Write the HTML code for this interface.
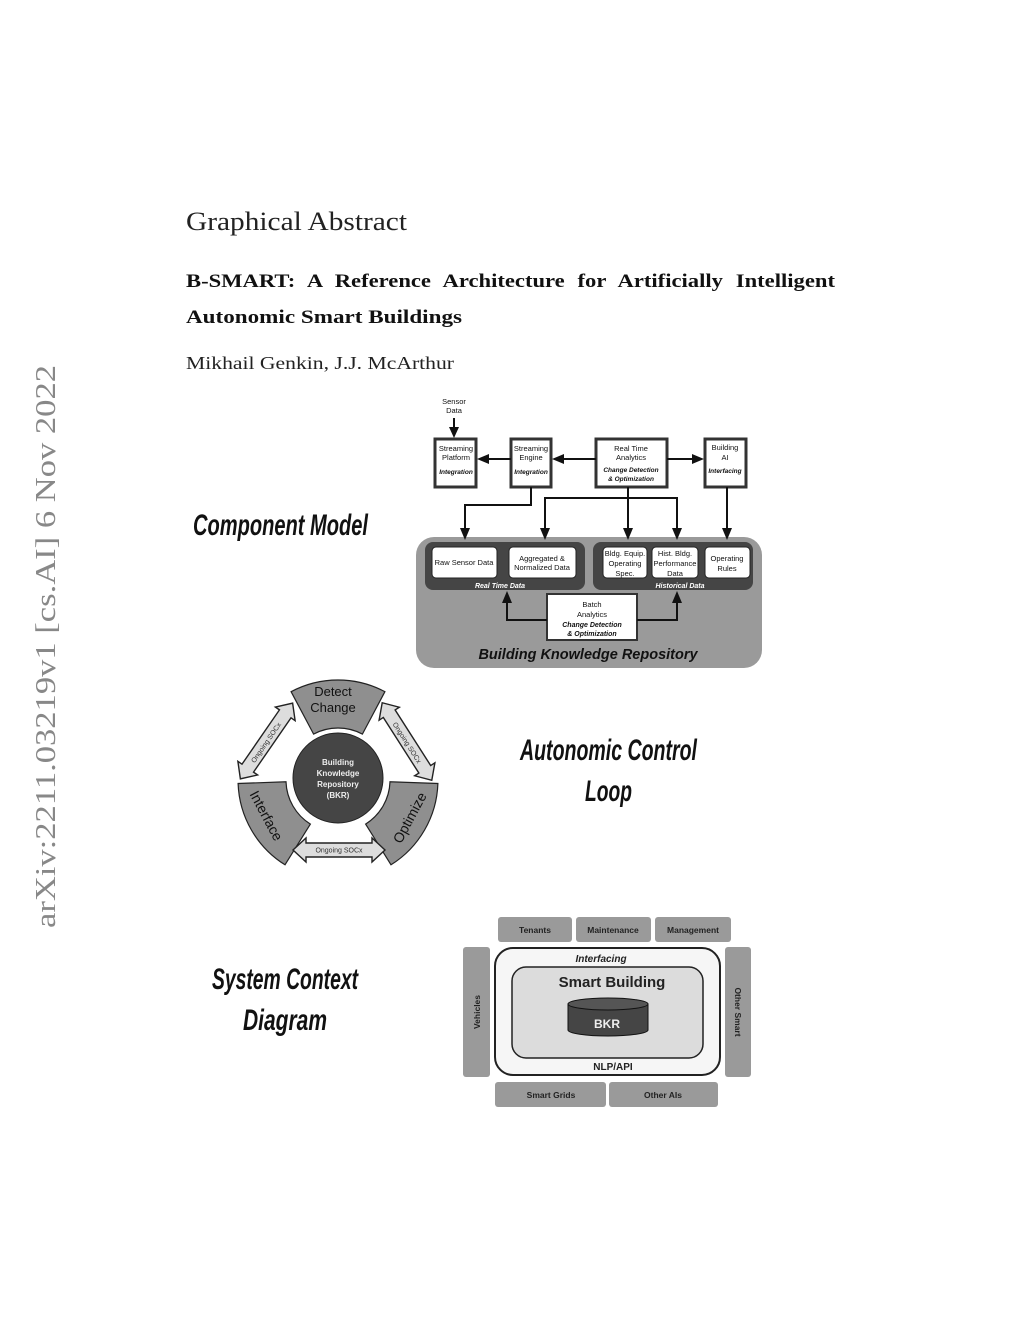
<!DOCTYPE html>
<html><head><meta charset="utf-8"><style>
html,body{margin:0;padding:0;background:#fff;}
svg{display:block;}
text{font-family:"Liberation Sans",sans-serif;}
.serif{font-family:"Liberation Serif",serif;}
</style></head><body>
<svg width="1024" height="1325" viewBox="0 0 1024 1325" xmlns="http://www.w3.org/2000/svg">
<!-- header -->
<text class="serif" x="186" y="230" font-size="26" textLength="221" lengthAdjust="spacingAndGlyphs" fill="#222">Graphical Abstract</text>
<text class="serif" x="186" y="287" font-size="19" font-weight="bold" textLength="649" lengthAdjust="spacingAndGlyphs" fill="#111" word-spacing="6">B-SMART: A Reference Architecture for Artificially Intelligent</text>
<text class="serif" x="186" y="323" font-size="19" font-weight="bold" textLength="276" lengthAdjust="spacingAndGlyphs" fill="#111">Autonomic Smart Buildings</text>
<text class="serif" x="186" y="369" font-size="18" textLength="268" lengthAdjust="spacingAndGlyphs" fill="#222">Mikhail Genkin, J.J. McArthur</text>
<text class="serif" transform="translate(55,928) rotate(-90)" font-size="29" textLength="563" lengthAdjust="spacingAndGlyphs" fill="#888">arXiv:2211.03219v1  [cs.AI]  6 Nov 2022</text>

<!-- headings -->
<g font-weight="bold" font-style="italic" fill="#111">
<text x="193" y="535" font-size="30" textLength="175" lengthAdjust="spacingAndGlyphs">Component Model</text>
<text x="520" y="760" font-size="30" textLength="177" lengthAdjust="spacingAndGlyphs">Autonomic Control</text>
<text x="585" y="801" font-size="30" textLength="47" lengthAdjust="spacingAndGlyphs">Loop</text>
<text x="212" y="989" font-size="30" textLength="146" lengthAdjust="spacingAndGlyphs">System Context</text>
<text x="243" y="1030" font-size="30" textLength="84" lengthAdjust="spacingAndGlyphs">Diagram</text>
</g>

<!-- Component model -->
<g font-size="7.5" fill="#111" text-anchor="middle">
<text x="454" y="404">Sensor</text><text x="454" y="413">Data</text>
</g>
<rect x="416" y="537" width="346" height="131" rx="18" fill="#9a9a9a"/>
<rect x="425" y="542" width="160" height="48" rx="8" fill="#454545"/>
<rect x="593" y="542" width="160" height="48" rx="8" fill="#454545"/>
<g fill="#fff" stroke="#222" stroke-width="1">
<rect x="432" y="547" width="65" height="31" rx="4"/>
<rect x="509" y="547" width="67" height="31" rx="4"/>
<rect x="603" y="547" width="44" height="31" rx="4"/>
<rect x="652" y="547" width="46" height="31" rx="4"/>
<rect x="705" y="547" width="45" height="31" rx="4"/>
</g>
<g font-size="7.5" fill="#111" text-anchor="middle">
<text x="464" y="565">Raw Sensor Data</text>
<text x="542" y="561">Aggregated &amp;</text><text x="542" y="570">Normalized Data</text>
<text x="625" y="556">Bldg. Equip.</text><text x="625" y="566">Operating</text><text x="625" y="576">Spec.</text>
<text x="675" y="556">Hist. Bldg.</text><text x="675" y="566">Performance</text><text x="675" y="576">Data</text>
<text x="727" y="561">Operating</text><text x="727" y="571">Rules</text>
</g>
<g font-size="7" font-style="italic" font-weight="bold" fill="#fff" text-anchor="middle">
<text x="500" y="588">Real Time Data</text>
<text x="680" y="588">Historical Data</text>
</g>
<rect x="547" y="594" width="90" height="46" fill="#fff" stroke="#333" stroke-width="2"/>
<g font-size="7.5" fill="#111" text-anchor="middle">
<text x="592" y="607">Batch</text><text x="592" y="617">Analytics</text>
<text x="592" y="627" font-style="italic" font-weight="bold" font-size="7">Change Detection</text>
<text x="592" y="636" font-style="italic" font-weight="bold" font-size="7">&amp; Optimization</text>
</g>
<text x="588" y="659" font-size="14.5" font-weight="bold" font-style="italic" fill="#111" text-anchor="middle">Building Knowledge Repository</text>

<g fill="#fff" stroke="#333" stroke-width="3">
<rect x="435" y="439" width="41" height="48"/>
<rect x="511" y="439" width="40" height="48"/>
<rect x="596" y="439" width="71" height="48"/>
<rect x="705" y="439" width="41" height="48"/>
</g>
<g font-size="7.5" fill="#111" text-anchor="middle">
<text x="456" y="451">Streaming</text><text x="456" y="460">Platform</text>
<text x="456" y="474" font-style="italic" font-weight="bold" font-size="6.5">Integration</text>
<text x="531" y="451">Streaming</text><text x="531" y="460">Engine</text>
<text x="531" y="474" font-style="italic" font-weight="bold" font-size="6.5">Integration</text>
<text x="631" y="451">Real Time</text><text x="631" y="460">Analytics</text>
<text x="631" y="472" font-style="italic" font-weight="bold" font-size="6.5">Change Detection</text>
<text x="631" y="481" font-style="italic" font-weight="bold" font-size="6.5">&amp; Optimization</text>
<text x="725" y="450">Building</text><text x="725" y="460">AI</text>
<text x="725" y="473" font-style="italic" font-weight="bold" font-size="6.5">Interfacing</text>
</g>
<!-- connectors -->
<g fill="none" stroke="#111" stroke-width="2">
<path d="M454 418 V428"/>
<path d="M511 459 H488"/>
<path d="M596 459 H563"/>
<path d="M667 459 H693"/>
<path d="M531 487 V505 H465 V528"/>
<path d="M545 528 V498 H677 V528"/>
<path d="M628 487 V528"/>
<path d="M727 487 V528"/>
<path d="M547 620 H507 V602"/>
<path d="M637 620 H677 V602"/>
</g>
<g fill="#111">
<polygon points="454,438 449,427 459,427"/>
<polygon points="477,459 489,454 489,464"/>
<polygon points="552,459 564,454 564,464"/>
<polygon points="704,459 692,454 692,464"/>
<polygon points="465,540 460,528 470,528"/>
<polygon points="545,540 540,528 550,528"/>
<polygon points="628,540 623,528 633,528"/>
<polygon points="677,540 672,528 682,528"/>
<polygon points="727,540 722,528 732,528"/>
<polygon points="507,591 502,603 512,603"/>
<polygon points="677,591 672,603 682,603"/>
</g>

<!-- Autonomic loop -->
<g fill="#8f8f8f" stroke="#222" stroke-width="1.2">
<path d="M291.1 691.7 A100 100 0 0 1 384.9 691.7 L362.4 734.1 A52 52 0 0 0 313.6 734.1 Z"/>
<path d="M238.1 783.5 A100 100 0 0 0 285.0 864.8 L310.4 824.1 A52 52 0 0 1 286.0 781.8 Z"/>
<path d="M437.9 783.5 A100 100 0 0 1 391.0 864.8 L365.6 824.1 A52 52 0 0 0 390.0 781.8 Z"/>
</g>
<circle cx="338" cy="778" r="45" fill="#454545" stroke="#222" stroke-width="1"/>
<g font-size="8" font-weight="bold" fill="#eee" text-anchor="middle">
<text x="338" y="765">Building</text><text x="338" y="776">Knowledge</text>
<text x="338" y="787">Repository</text><text x="338" y="798">(BKR)</text>
</g>
<g font-size="13" fill="#111" text-anchor="middle">
<text x="333" y="696">Detect</text><text x="333" y="712">Change</text>
<text transform="translate(262,818) rotate(62)" font-size="14">Interface</text>
<text transform="translate(414,820) rotate(-62)" font-size="14">Optimize</text>
</g>
<g fill="#ddd" stroke="#222" stroke-width="1.4">
<polygon transform="translate(266.5,741) rotate(-55.4)" points="-46,0 -33,-12 -33,-7 33,-7 33,-12 46,0 33,12 33,7 -33,7 -33,12"/>
<polygon transform="translate(407,741.5) rotate(57.4)" points="-46,0 -33,-12 -33,-7 33,-7 33,-12 46,0 33,12 33,7 -33,7 -33,12"/>
<polygon transform="translate(339,850)" points="-46,0 -33,-12 -33,-7 33,-7 33,-12 46,0 33,12 33,7 -33,7 -33,12"/>
</g>
<g font-size="7" fill="#333" text-anchor="middle">
<text transform="translate(268,744) rotate(-55.4)">Ongoing SOCx</text>
<text transform="translate(405,744) rotate(57.4)">Ongoing SOCx</text>
<text x="339" y="852.5">Ongoing SOCx</text>
</g>

<!-- System context -->
<g fill="#9a9a9a">
<rect x="498" y="917" width="74" height="25" rx="3"/>
<rect x="576" y="917" width="75" height="25" rx="3"/>
<rect x="655" y="917" width="76" height="25" rx="3"/>
<rect x="463" y="947" width="27" height="130" rx="3"/>
<rect x="725" y="947" width="26" height="130" rx="3"/>
<rect x="495" y="1082" width="111" height="25" rx="3"/>
<rect x="609" y="1082" width="109" height="25" rx="3"/>
</g>
<g font-size="8.5" font-weight="bold" fill="#222" text-anchor="middle">
<text x="535" y="933">Tenants</text>
<text x="613" y="933">Maintenance</text>
<text x="693" y="933">Management</text>
<text x="551" y="1098">Smart Grids</text>
<text x="663" y="1098">Other AIs</text>
<text transform="translate(480,1012) rotate(-90)">Vehicles</text>
<text transform="translate(735,1012) rotate(90)">Other Smart</text>
</g>
<rect x="495" y="948" width="225" height="127" rx="18" fill="#f6f6f6" stroke="#222" stroke-width="2"/>
<rect x="512" y="967" width="191" height="91" rx="14" fill="#dcdcdc" stroke="#222" stroke-width="1.5"/>
<text x="601" y="962" font-size="10" font-style="italic" font-weight="bold" fill="#222" text-anchor="middle">Interfacing</text>
<text x="612" y="987" font-size="15" font-weight="bold" fill="#222" text-anchor="middle">Smart Building</text>
<text x="613" y="1070" font-size="10" font-weight="bold" fill="#222" text-anchor="middle">NLP/API</text>
<path d="M568 1004 V1030 A40 6 0 0 0 648 1030 V1004 Z" fill="#454545" stroke="#111" stroke-width="1"/>
<ellipse cx="608" cy="1004" rx="40" ry="6" fill="#555" stroke="#111" stroke-width="1"/>
<text x="607" y="1028" font-size="12" font-weight="bold" fill="#eee" text-anchor="middle">BKR</text>
</svg>
</body></html>
